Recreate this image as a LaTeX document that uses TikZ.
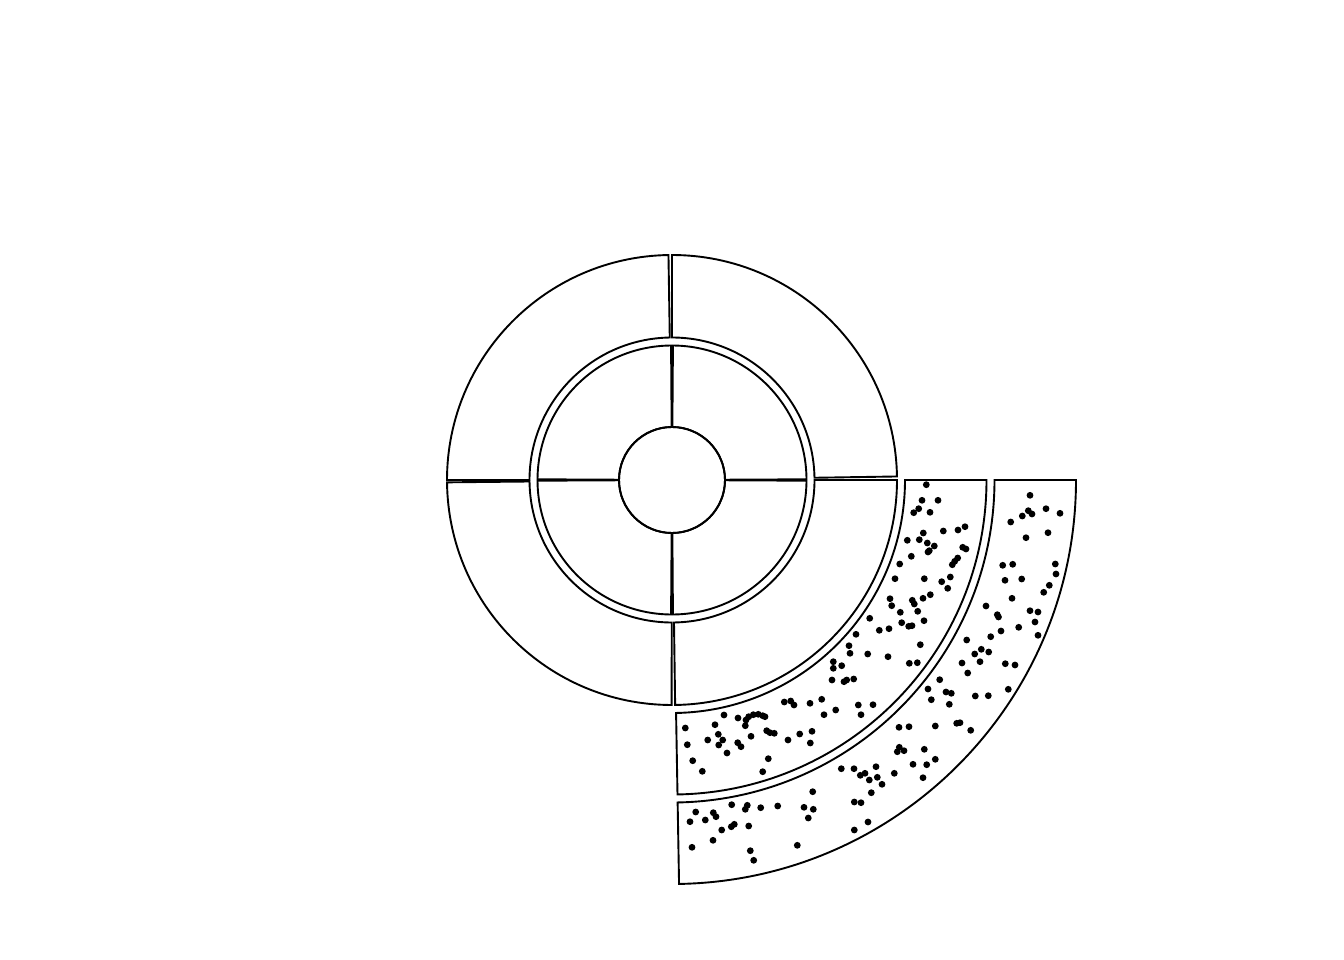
\documentclass[tikz,border=0pt]{standalone}
\tikzset{
  ring/.style={draw=black, line width=1.9pt, line join=miter},
  speck/.style={fill=black}
}
\newcommand\annsec[4]{%
  \draw[ring] ([shift={(#1:#3)}]O) arc[start angle=#1,end angle=#2,radius=#3]
    -- ([shift={(#2:#4)}]O) arc[start angle=#2,end angle=#1,radius=#4] -- cycle;}
\begin{document}
\begin{tikzpicture}[x=1pt,y=1pt]
\useasboundingbox (0,0) rectangle (1344,-960);
\coordinate (O) at (672,-480);
% inner circle
\draw[ring] (O) circle[radius=53];
% inner ring
\annsec{0.3}{89.6}{53}{134.5}
\annsec{90.4}{179.7}{53}{134.5}
\annsec{180.3}{269.6}{53}{134.5}
\annsec{270.4}{359.7}{53}{134.5}
% outer ring
\annsec{0.9}{90}{142.5}{225}
\annsec{90.9}{180}{142.5}{225}
\annsec{180.6}{269.9}{142.5}{225}
\annsec{270.8}{360}{142.5}{225}
% bands
\annsec{271.0}{360}{233}{314.5}
\annsec{271.0}{360}{322.5}{404}
% dots
\foreach \x/\y in {
926.3/484.7, 922/500.3, 938/500.3, 918.7/508.7, 913.7/512.7, 930/512.3, 923.3/533, 943.3/531, 958/530, 965/526.7,
907.3/540.3, 919.3/539.7, 927.3/543, 934.3/546, 929.3/550.7, 928/552, 962.7/547.3, 966/549, 911.3/556.3, 957.7/558,
954.7/561.3, 952.3/564.7, 899.7/564, 895/578.7, 924.3/578.7, 950.3/577, 941.7/581.7, 947.7/588.3, 890/598.7, 891.7/605.7,
912.3/600.3, 914.3/604, 923/598.3, 930.3/594.7, 900.3/612.3, 917.7/611.3,
869.7/618.3, 901.7/622.7, 924/620.7, 879.3/630.3, 889/628.7, 908.7/626.3, 912/625.7, 856/634.3, 849/645.7, 920.3/644.7,
850/653.3, 867.7/654, 888/656.7, 833.3/661.7, 909.3/663.3, 917.3/662.7, 833.3/668.3, 841.7/665.7, 832/680, 844/681.7,
846.7/680, 853.7/679, 821.7/699.3, 858.3/705, 873/704.7, 835.7/710,
784.3/702, 790.7/701, 794/705, 810/703.3, 824/714.7, 861/714.7, 685.3/728, 724/715, 738/718, 746/720,
748.7/716.7, 753.3/714.7, 758.3/714.3, 762.7/715.7, 765/716.7, 745.3/725.7, 715/724.7, 718.3/734.3, 722.7/740, 707.7/740,
718.7/745, 687.3/744.7, 737.7/742.7, 741/746.7, 751/736.3, 766.7/730.7, 770/732.7, 774.3/733.3, 799.7/734, 812/731.3,
788/740, 810.3/743, 727/753, 768.3/758.7, 692.7/760.7, 702.3/771.3, 762.7/771.7,
1030/495.3, 1046/508.7, 1060/513.3, 1022.3/516, 1028.3/510.7, 1032/514, 1010.7/522, 1048/532.7, 1026/537.7, 1002.7/565.3,
1012.7/564.3, 1055.3/564, 1056/574, 1005/580.3, 1021.7/579, 1049.3/585.3, 1043.7/592.3, 1012/598.3, 986/606, 997.3/614.7,
998.5/617, 1030/610.7, 1038/612,
1035/622, 1018.7/627.3, 1038/635.3, 1001/631, 990.7/636.7, 966.7/640, 981.3/649.3, 974.7/654, 988.7/652, 980/661.7,
962/663, 1005.3/663.7, 1015/665, 967.7/673, 939.7/679.7, 928/689, 946/692, 951.3/693.3, 931.3/699.7, 975.3/696,
988.3/695.7, 1008.3/689.3, 949.3/704.3,
899/727.3, 909/726.7, 935.3/726, 956.7/723.3, 960/722.7, 970.7/730.3, 899.3/747.3, 897.3/751.7, 904/750.7, 924.3/749.3,
935.3/759.3, 913/764.3, 926.7/764.7, 894.3/773.3, 923/777.7,
841.3/768.7, 854/768.7, 860.3/775.3, 865/773.3, 869.3/780, 876/766.7, 877.3/777.3, 882/784.3, 812.7/791.7, 871.3/792.7,
854.3/802, 861/802.7, 804/807.3, 813.3/809.3,
731.7/804.7, 747.3/805.3, 745.3/809.3, 760.7/807.7, 777.7/806, 808.3/818, 695.7/812, 713.3/812.7, 716/816.7, 690/821.7,
705.3/820, 731.3/826.7, 734.3/824.3, 748.7/826, 721.7/830, 713/840.3, 692/847.3, 750.3/850.7, 753.7/860.3, 797.3/845.3,
854.3/830, 868/822}
  \fill[speck] (\x,-\y) circle[radius=3.4];
\end{tikzpicture}
\end{document}
